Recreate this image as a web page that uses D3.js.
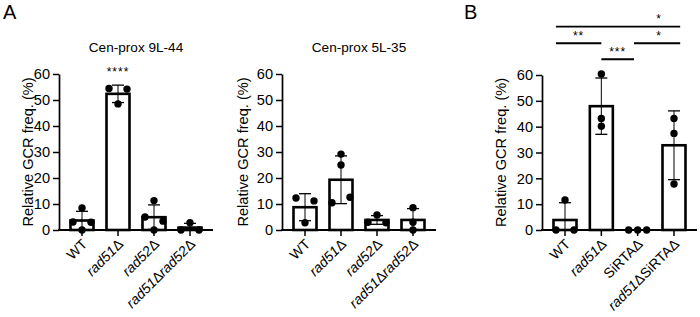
<!DOCTYPE html>
<html>
<head>
<meta charset="utf-8">
<style>
  body { margin: 0; background: #fff; }
  svg { font-family: "Liberation Sans", Arial, Helvetica, sans-serif; }
</style>
</head>
<body>
<svg id="chart" width="700" height="317"></svg>
<script src="https://cdn.jsdelivr.net/npm/d3@7"></script>
<script>
// data (each inner list = replicate points of one strain)
var groupsA = ["WT", "rad51Δ", "rad52Δ", "rad51Δrad52Δ"];
var groupsB = ["WT", "rad51Δ", "SiRTAΔ", "rad51ΔSiRTAΔ"];
var points9L44 = [[8.5, 3.1, 3.0, 0], [54.4, 54.2, 48.5], [11.3, 5.0, 3.4, 0], [2.8, 0, 0]];
var points5L35 = [[12.3, 11.2, 2.8], [29.2, 25.0, 10.5, 12.6], [5.8, 3.0, 2.8], [8.6, 3.0, 0]];
var pointsB = [[11.6, 0, 0], [60.4, 43.2, 40.2], [0, 0, 0], [43.2, 37.4, 17.8]];
var yTicks = [0, 10, 20, 30, 40, 50, 60];
var starsA = [{ group: 1, level: 59.2, label: "****" }];
// comparison bars of panel B: ends in group index units, level in y units
var compB = [
  { from: -0.25, to: 3.17, level: 78.7, label: "*" },
  { from: -0.25, to: 1.0, level: 72.3, label: "**" },
  { from: 1.9, to: 3.17, level: 72.3, label: "*" },
  { from: 1.0, to: 1.9, level: 66.1, label: "***" }
];

var svg = d3.select("#chart");

// panel letters
svg.append("text").attr("x", 3).attr("y", 19).attr("font-size", 20).text("A");
svg.append("text").attr("x", 464).attr("y", 19).attr("font-size", 20).text("B");

function drawPanel(opt) {
  var g = svg.append("g");
  var x = d3.scalePoint().domain(d3.range(opt.groups.length))
    .range([opt.x0 + 23, opt.x1 - 23]);
  var y = d3.scaleLinear().domain([0, 60]).range([230, opt.top]);

  // y axis
  var yAxis = d3.axisLeft(y).tickValues(yTicks).tickSize(6).tickPadding(3).tickSizeOuter(0);
  var ya = g.append("g").attr("transform", "translate(" + opt.x0 + ",0)").call(yAxis);
  ya.select(".domain").attr("stroke-width", 1.7);
  ya.selectAll(".tick line").attr("stroke-width", 1.5);
  ya.selectAll(".tick text").attr("font-size", 14.6).attr("font-family", "Liberation Sans, Arial");

  // y label
  g.append("text")
    .attr("transform", "translate(" + opt.labelX + "," + (y(30)) + ") rotate(-90)")
    .attr("text-anchor", "middle").attr("font-size", 14.6)
    .text("Relative GCR freq. (%)");

  // title
  if (opt.title) {
    g.append("text").attr("x", (opt.x0 + opt.x1) / 2).attr("y", 52)
      .attr("text-anchor", "middle").attr("font-size", 13.6).text(opt.title);
  }

  var stats = opt.data.map(function (pts) {
    var m = d3.mean(pts);
    var sd = d3.deviation(pts) || 0;
    return { mean: m, sd: sd };
  });

  // bars
  g.selectAll("rect.bar").data(stats).enter().append("rect")
    .attr("class", "bar")
    .attr("x", function (d, i) { return x(i) - 11.5; })
    .attr("width", 23)
    .attr("y", function (d) { return y(d.mean); })
    .attr("height", function (d) { return 230 - y(d.mean); })
    .attr("fill", "#fff").attr("stroke", "#000").attr("stroke-width", 2.6);

  // error bars (mean +/- SD)
  stats.forEach(function (d, i) {
    if (d.sd === 0) return;
    var hi = d.mean + d.sd, lo = Math.max(0, d.mean - d.sd);
    g.append("line").attr("x1", x(i)).attr("x2", x(i))
      .attr("y1", y(hi)).attr("y2", y(lo)).attr("stroke", "#000").attr("stroke-width", 1);
    g.append("line").attr("x1", x(i) - 6).attr("x2", x(i) + 6)
      .attr("y1", y(hi)).attr("y2", y(hi)).attr("stroke", "#000").attr("stroke-width", 1.3);
    if (d.mean - d.sd > 0) {
      g.append("line").attr("x1", x(i) - 6).attr("x2", x(i) + 6)
        .attr("y1", y(lo)).attr("y2", y(lo)).attr("stroke", "#000").attr("stroke-width", 1.3);
    }
  });

  // x axis
  g.append("line").attr("x1", opt.x0 - 0.8).attr("x2", opt.x1)
    .attr("y1", 230).attr("y2", 230).attr("stroke", "#000").attr("stroke-width", 1.8);
  g.selectAll("line.xtick").data(opt.groups).enter().append("line")
    .attr("x1", function (d, i) { return x(i); }).attr("x2", function (d, i) { return x(i); })
    .attr("y1", 230).attr("y2", 236).attr("stroke", "#000").attr("stroke-width", 1.5);

  // points: close values spread sideways like a scatter dot plot
  opt.data.forEach(function (pts, i) {
    var idx = d3.range(pts.length).sort(function (a, b) { return pts[a] - pts[b]; });
    var clusters = [], cur = [];
    idx.forEach(function (k) {
      if (cur.length && Math.abs(y(pts[k]) - y(pts[cur[cur.length - 1]])) > 6.5) {
        clusters.push(cur); cur = [];
      }
      cur.push(k);
    });
    if (cur.length) clusters.push(cur);
    clusters.forEach(function (c) {
      c.sort(function (a, b) { return a - b; });
      c.forEach(function (k, j) {
        var off = c.length === 1 ? 0 : -9 + 18 * j / (c.length - 1);
        g.append("circle").attr("cx", x(i) + off).attr("cy", y(pts[k]))
          .attr("r", 3.7).attr("fill", "#000");
      });
    });
  });

  // x labels
  opt.groups.forEach(function (name, i) {
    var t = g.append("text")
      .attr("transform", "translate(" + (x(i) + 6) + ",245) rotate(-45)")
      .attr("text-anchor", "end").attr("font-size", 14);
    name.split(/(rad5\d)/).forEach(function (part) {
      if (!part) return;
      t.append("tspan").attr("font-style", /rad5\d/.test(part) ? "italic" : "normal").text(part);
    });
  });

  // significance
  (opt.stars || []).forEach(function (s) {
    g.append("text").attr("x", x(s.group)).attr("y", y(s.level))
      .attr("text-anchor", "middle").attr("font-size", 12).attr("letter-spacing", 1)
      .text(s.label);
  });
  if (opt.comp) {
    var xc = d3.scaleLinear().domain([0, opt.groups.length - 1]).range(x.range());
    opt.comp.forEach(function (c) {
      g.append("line").attr("x1", xc(c.from)).attr("x2", xc(c.to))
        .attr("y1", y(c.level)).attr("y2", y(c.level))
        .attr("stroke", "#000").attr("stroke-width", 1.8);
      g.append("text").attr("x", c.label === "*" ? xc(c.to) - 21 : (xc(c.from) + xc(c.to)) / 2)
        .attr("y", y(c.level) - 3.7)
        .attr("text-anchor", "middle").attr("font-size", 12).attr("letter-spacing", 1)
        .text(c.label);
    });
  }
}

drawPanel({ x0: 59, x1: 213, top: 74, labelX: 33, title: "Cen-prox 9L-44",
  groups: groupsA, data: points9L44, stars: starsA });
drawPanel({ x0: 282, x1: 436, top: 74, labelX: 248, title: "Cen-prox 5L-35",
  groups: groupsA, data: points5L35 });
drawPanel({ x0: 542, x1: 697, top: 75, labelX: 506,
  groups: groupsB, data: pointsB, comp: compB });
</script>
</body>
</html>
